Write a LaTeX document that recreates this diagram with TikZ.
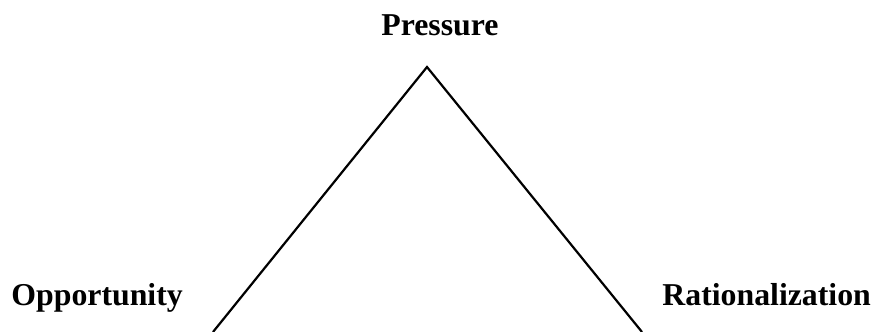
\documentclass[tikz,border=0pt]{standalone}
\usepackage{fontspec}
\setmainfont{Liberation Serif}
\begin{document}
\begin{tikzpicture}[x=0.5pt,y=-0.5pt,
  label/.style={font=\fontsize{15.9pt}{18pt}\selectfont\bfseries, inner sep=0pt, anchor=base west},
  edge/.style={line width=1.1pt, line join=miter}]
\useasboundingbox (0,0) rectangle (874,332);
\node[label] (pressure) at (381,35) {Pressure};
\node[label] (opportunity) at (11,305) {Opportunity};
\node[label] (rational) at (662,305) {Rationalization};
\coordinate (apex) at (427,67);
\coordinate (bl) at (213,332);
\coordinate (br) at (642,332);
\draw[edge] (bl) -- (apex) -- (br);
\end{tikzpicture}
\end{document}
